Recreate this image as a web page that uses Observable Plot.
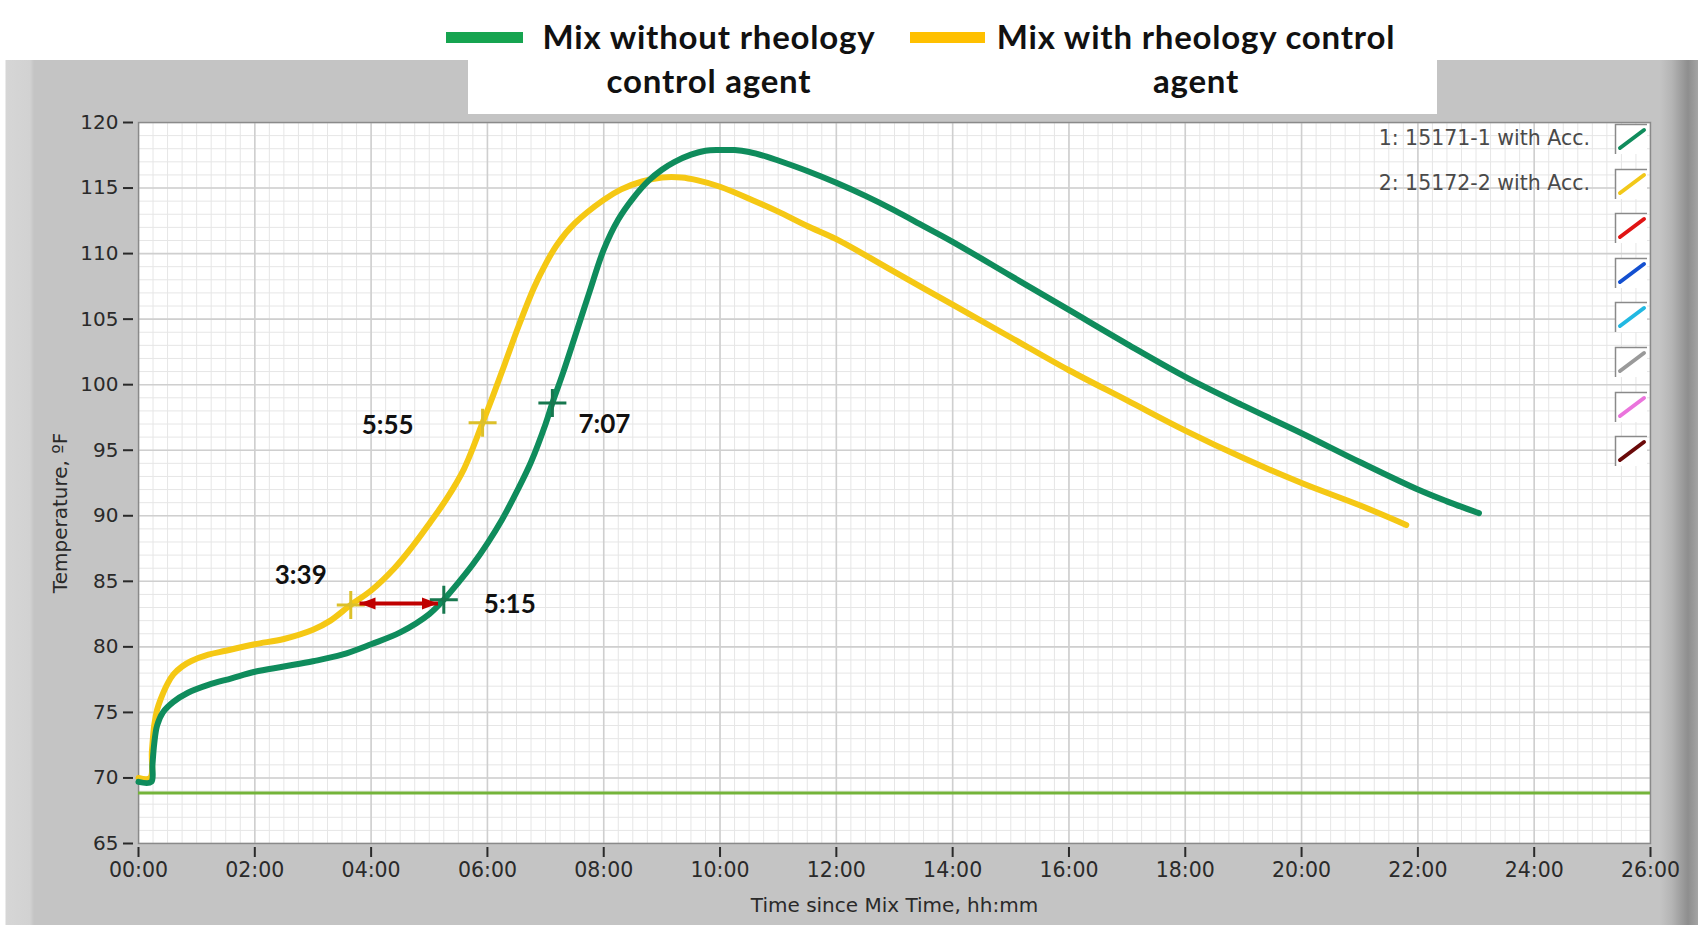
<!DOCTYPE html>
<html>
<head>
<meta charset="utf-8">
<script src="https://cdn.jsdelivr.net/npm/d3@7"></script>
<script src="https://cdn.jsdelivr.net/npm/@observablehq/plot@0.6"></script>
<style>
  html, body { margin: 0; padding: 0; background: #fff; }
  #page { position: relative; width: 1698px; height: 925px; overflow: hidden; background: #fff; }
  #chart { position: absolute; left: 0; top: 60px; }
  .toplegend { position: absolute; font-family: Lato, "Open Sans", sans-serif; font-weight: 700; color: #111; }
  .sw { position: absolute; height: 11px; }
  .ltxt { position: absolute; text-align: center; font-size: 33px; letter-spacing: 0.8px; line-height: 44px; white-space: nowrap; }
  .rl { position: absolute; font-family: "DejaVu Sans", sans-serif; font-size: 20.5px; color: #4a4a4a; white-space: nowrap; text-align: right; }
</style>
</head>
<body>
<div id="page">
  <div id="chart"></div>
</div>
<script>
// ---------- data ----------
const seriesNames = ["1: 15171-1 with Acc.", "2: 15172-2 with Acc."];
const legendNames = ["Mix without rheology\ncontrol agent", "Mix with rheology control\nagent"];

// Series 1 (green): mix without rheology control agent
const greenHours = [0, 0.22, 0.24, 0.27, 0.32, 0.42, 0.6, 0.85, 1.2, 1.6, 2.0, 2.5, 3.0, 3.5, 4.0, 4.5, 5.0, 5.25, 5.5, 5.75, 6.0, 6.25, 6.5, 6.75, 7.0, 7.117, 7.3, 7.5, 7.75, 8.0, 8.25, 8.5, 8.78, 9.0, 9.22, 9.5, 9.75, 10.0, 10.25, 10.5, 10.8, 11.0, 11.5, 12.0, 12.5, 13.0, 13.5, 14.0, 15.0, 16.0, 17.0, 18.0, 19.0, 20.0, 21.0, 22.0, 22.5, 23.05];
const greenTemps = [69.7, 69.7, 71.0, 72.6, 74.0, 75.0, 75.8, 76.5, 77.1, 77.6, 78.1, 78.5, 78.9, 79.4, 80.2, 81.1, 82.5, 83.6, 84.9, 86.3, 87.9, 89.7, 91.8, 94.1, 97.0, 98.6, 100.9, 103.6, 107.0, 110.3, 112.6, 114.2, 115.6, 116.4, 117.0, 117.55, 117.85, 117.9, 117.9, 117.75, 117.4, 117.1, 116.3, 115.4, 114.4, 113.3, 112.1, 110.9, 108.3, 105.7, 103.1, 100.6, 98.4, 96.3, 94.1, 92.0, 91.1, 90.2];

// Series 2 (yellow): mix with rheology control agent
const yellowHours = [0, 0.2, 0.23, 0.27, 0.32, 0.38, 0.5, 0.6, 0.75, 0.9, 1.2, 1.5, 2.0, 2.5, 3.0, 3.3, 3.65, 4.0, 4.4, 4.7, 5.0, 5.3, 5.6, 5.917, 6.1, 6.3, 6.53, 6.8, 7.0, 7.2, 7.5, 8.0, 8.3, 8.66, 9.0, 9.34, 9.6, 10.0, 10.6, 11.0, 11.5, 12.0, 13.0, 14.0, 15.0, 16.0, 17.0, 18.0, 19.0, 20.0, 21.0, 21.8];
const yellowTemps = [70.0, 70.0, 72.0, 74.0, 75.2, 76.0, 77.2, 77.9, 78.5, 78.9, 79.4, 79.7, 80.2, 80.6, 81.3, 82.0, 83.2, 84.3, 86.0, 87.6, 89.4, 91.3, 93.6, 97.1, 99.2, 101.6, 104.4, 107.4, 109.2, 110.7, 112.3, 114.1, 114.9, 115.5, 115.8, 115.8, 115.6, 115.1, 114.0, 113.2, 112.1, 111.1, 108.6, 106.1, 103.6, 101.1, 98.8, 96.5, 94.4, 92.5, 90.8, 89.3];

// Ambient reference line
const baselineTemp = [68.85];

// Annotated points
const markerLabels = ["3:39", "5:55", "5:15", "7:07"];
const markerHours  = [3.65, 5.917, 5.25, 7.117];
const markerTemps  = [83.2, 97.1, 83.6, 98.6];
const markerSeries = [1, 1, 0, 0];

// Double arrow between 3:39 and 5:15
const arrowFromHours = [3.80];
const arrowToHours = [5.15];
const arrowTemps = [83.3];

// Axes
const xTickHours  = [0, 2, 4, 6, 8, 10, 12, 14, 16, 18, 20, 22, 24, 26];
const xTickLabels = ["00:00", "02:00", "04:00", "06:00", "08:00", "10:00", "12:00", "14:00", "16:00", "18:00", "20:00", "22:00", "24:00", "26:00"];
const yTicks = [65, 70, 75, 80, 85, 90, 95, 100, 105, 110, 115, 120];
const xTitle = "Time since Mix Time, hh:mm";
const yTitle = "Temperature, ºF";

// Plot-legend swatch colours (LabVIEW legend)
const plotLegendColors = ["#108c5c", "#f2c81a", "#e01414", "#1450d0", "#22b8e2", "#9a9a9a", "#ea74dc", "#6a0a0a"];

// ---------- build ----------
const colors = ["#0f8c5c", "#f5c814"];
const markerColors = ["#17784f", "#dcc02a"];

const green = greenHours.map((h, i) => ({h, t: greenTemps[i]}));
const yellow = yellowHours.map((h, i) => ({h, t: yellowTemps[i]}));
const markers = markerLabels.map((label, i) => ({label, h: markerHours[i], t: markerTemps[i], s: markerSeries[i]}));
const arrows = arrowFromHours.map((a, i) => ({a, b: arrowToHours[i], t: arrowTemps[i]}));

const minorX = d3.range(0, 26.001, 0.25);
const minorY = d3.range(65, 120.001, 1);
const majorX = d3.range(0, 26.001, 2);
const majorY = d3.range(65, 120.001, 5);

const plusSymbol = {
  draw(ctx, size) {
    const r = Math.sqrt(size / Math.PI);
    ctx.moveTo(-r, 0); ctx.lineTo(r, 0);
    ctx.moveTo(0, -r); ctx.lineTo(0, r);
  }
};
const headSymbol = {
  draw(ctx, size) {
    const r = Math.sqrt(size / Math.PI);
    ctx.moveTo(r, 0); ctx.lineTo(-r, -r * 0.75); ctx.lineTo(-r, r * 0.75); ctx.closePath();
  }
};

const labelOffsets = {"3:39": [-50, -29], "5:55": [-95, 3], "5:15": [66, 5], "7:07": [52, 22]};

const annotationFont = {fontFamily: "Lato, 'Open Sans', sans-serif", fontWeight: 700, fontSize: 26, fill: "#111"};

const plot = Plot.plot({
  width: 1698,
  height: 865,
  marginLeft: 138,
  marginRight: 48,
  marginTop: 62,
  marginBottom: 82,
  x: {domain: [0, 26]},
  y: {domain: [65, 120]},
  style: {
    background: "linear-gradient(to right, #ffffff 0px, #ffffff 5px, #d6d6d6 6px, #d2d2d2 30px, #c4c4c4 34px, #c4c4c4 1660px, #b4b4b4 1672px, #8e8e8e 1688px, #a4a4a4 1698px)",
    fontFamily: "'DejaVu Sans', sans-serif",
    fontSize: "20px",
    color: "#2a2a2a",
    overflow: "visible"
  },
  marks: [
    Plot.frame({fill: "#ffffff", stroke: null}),
    Plot.ruleX(minorX, {stroke: "#e6e6e6", strokeWidth: 1}),
    Plot.ruleY(minorY, {stroke: "#e6e6e6", strokeWidth: 1}),
    Plot.ruleX(majorX, {stroke: "#cfcfcf", strokeWidth: 1.6}),
    Plot.ruleY(majorY, {stroke: "#cfcfcf", strokeWidth: 1.6}),
    Plot.frame({stroke: "#8a8a8a", strokeWidth: 1.5}),
    Plot.axisX(xTickHours, {
      tickSize: 10, tickPadding: 5, dy: 4, stroke: "#2a2a2a", fill: "#2a2a2a", strokeWidth: 2, fontSize: 20.5,
      tickFormat: d => xTickLabels[xTickHours.indexOf(d)], label: null
    }),
    Plot.axisY(yTicks, {
      tickSize: 10, tickPadding: 5, dx: -5, stroke: "#2a2a2a", fill: "#2a2a2a", strokeWidth: 2, fontSize: 20,
      tickFormat: d => String(d), label: null
    }),
    Plot.text([xTitle], {frameAnchor: "bottom", lineAnchor: "middle", dy: 62, text: d => d, fill: "#2a2a2a", fontSize: 20}),
    Plot.text([yTitle], {frameAnchor: "left", textAnchor: "middle", dx: -78, dy: 30, rotate: -90, text: d => d, fill: "#2a2a2a", fontSize: 20}),
    Plot.ruleY(baselineTemp, {stroke: "#74b43a", strokeWidth: 3}),
    Plot.line(yellow, {x: "h", y: "t", stroke: colors[1], strokeWidth: 6, curve: "catmull-rom", strokeLinecap: "round", strokeLinejoin: "round"}),
    Plot.line(green, {x: "h", y: "t", stroke: colors[0], strokeWidth: 6, curve: "catmull-rom", strokeLinecap: "round", strokeLinejoin: "round"}),
    Plot.dot(markers, {x: "h", y: "t", symbol: plusSymbol, r: 14, fill: "none", stroke: d => markerColors[d.s], strokeWidth: 3}),
    Plot.link(arrows, {x1: "a", x2: "b", y1: "t", y2: "t", stroke: "#c00000", strokeWidth: 4}),
    Plot.dot(arrows, {x: "b", y: "t", symbol: headSymbol, r: 8, dx: -8, fill: "#c00000", stroke: null}),
    Plot.dot(arrows, {x: "a", y: "t", symbol: headSymbol, r: 8, dx: 8, rotate: 180, fill: "#c00000", stroke: null}),
    ...markerLabels.map(lab => Plot.text(markers.filter(m => m.label === lab), {
      x: "h", y: "t", text: "label", dx: labelOffsets[lab][0], dy: labelOffsets[lab][1], ...annotationFont
    }))
  ]
});
document.getElementById("chart").appendChild(plot);

// ---------- top legend (white box) ----------
const page = document.getElementById("page");
const box = document.createElement("div");
box.style.cssText = "position:absolute;left:468px;top:0;width:969px;height:114px;background:#fff;";
page.appendChild(box);

const legendLayout = [
  {sw: [446, 77], txtLeft: 519, txtWidth: 380},
  {sw: [910, 75], txtLeft: 975, txtWidth: 442}
];
legendNames.forEach((name, i) => {
  const L = legendLayout[i];
  const sw = document.createElement("div");
  sw.className = "sw";
  sw.style.cssText += `left:${L.sw[0]}px;top:32px;width:${L.sw[1]}px;background:${i === 0 ? "#16a450" : "#ffc000"};`;
  page.appendChild(sw);
  const t = document.createElement("div");
  t.className = "toplegend ltxt";
  t.style.left = L.txtLeft + "px";
  t.style.top = "14px";
  t.style.width = L.txtWidth + "px";
  t.innerHTML = name.split("\n").join("<br>");
  page.appendChild(t);
});

// ---------- plot legend (right, inside plot) ----------
plotLegendColors.forEach((c, i) => {
  const top = 123 + i * 44.6;
  const holder = document.createElement("div");
  holder.style.cssText = `position:absolute;left:1614px;top:${top}px;width:35px;height:32px;`;
  holder.innerHTML = `<svg width="35" height="32" style="display:block">
    <rect x="1" y="1" width="32" height="30" fill="#fff"/>
    <path d="M1.5 31 V1.5 H33" fill="none" stroke="#8a8a8a" stroke-width="1.5"/>
    <line x1="6" y1="25" x2="30" y2="7" stroke="${c}" stroke-width="4" stroke-linecap="round"/>
  </svg>`;
  page.appendChild(holder);
});
seriesNames.forEach((n, i) => {
  const d = document.createElement("div");
  d.className = "rl";
  d.style.right = (1698 - 1590) + "px";
  d.style.top = (126 + i * 44.5) + "px";
  d.textContent = n;
  page.appendChild(d);
});
</script>
</body>
</html>
